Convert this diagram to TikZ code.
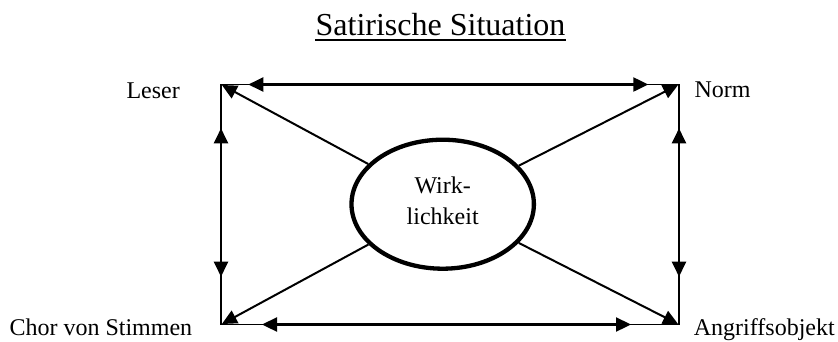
\documentclass[tikz,border=0pt]{standalone}
\usepackage{fontspec}
\setmainfont{Liberation Serif}
\usetikzlibrary{arrows.meta,shapes.geometric}
\begin{document}
\begin{tikzpicture}[x=1pt,y=-1pt,
  lblfont/.style={font=\fontsize{24}{31.3}\selectfont},
  lbl/.style={inner sep=0pt, lblfont},
  rectline/.style={line width=1.6pt},
  tri/.tip={Triangle[length=15pt,width=14pt]},
  dbl/.style={line width=2.3pt, tri-tri},
  diag/.style={line width=2pt, -tri, shorten >=1pt},
  ellnode/.style={draw, ellipse, line width=4.3pt, minimum width=182.4pt, minimum height=129pt, inner sep=0pt, align=center, lblfont, text depth=7.6pt}
]
\useasboundingbox (0,0) rectangle (838,341);
% corners
\coordinate (TL) at (221,84.5);
\coordinate (TR) at (679,84.5);
\coordinate (BL) at (221,324.5);
\coordinate (BR) at (679,324.5);
% arrow ends
\coordinate (ta) at (248.3,84.5);
\coordinate (tb) at (648.3,84.5);
\coordinate (ba) at (262,324.5);
\coordinate (bb) at (631,324.5);
\coordinate (la) at (221,128.3);
\coordinate (lb) at (221,276.7);
\coordinate (ra) at (679,128.3);
\coordinate (rb) at (679,276.7);
% title
\node[inner sep=0pt, anchor=base, font=\fontsize{32}{38}\selectfont] (title) at (440.5,35) {Satirische Situation};
\draw[line width=2pt] ([yshift=-5pt]title.base west) -- ([yshift=-5pt]title.base east);
% rectangle
\draw[rectline] (TL) -- (TR) -- (BR) -- (BL) -- cycle;
% double arrows
\draw[dbl] (ta) -- (tb);
\draw[dbl] (ba) -- (bb);
\draw[dbl] (la) -- (lb);
\draw[dbl] (ra) -- (rb);
% ellipse
\node[ellnode] (ell) at (442.7,204.2) {Wirk-\\lichkeit};
% diagonals
\draw[diag] (ell) -- (TL);
\draw[diag] (ell) -- (TR);
\draw[diag] (ell) -- (BL);
\draw[diag] (ell) -- (BR);
% labels
\node[lbl, anchor=base east] (leser) at (180,98.3) {Leser};
\node[lbl, anchor=base west] (norm) at (694.3,97.5) {Norm};
\node[lbl, anchor=base east] (chor) at (192.4,335) {Chor von Stimmen};
\node[lbl, anchor=base west] (angriff) at (693.7,335) {Angriffsobjekt};
\end{tikzpicture}
\end{document}
